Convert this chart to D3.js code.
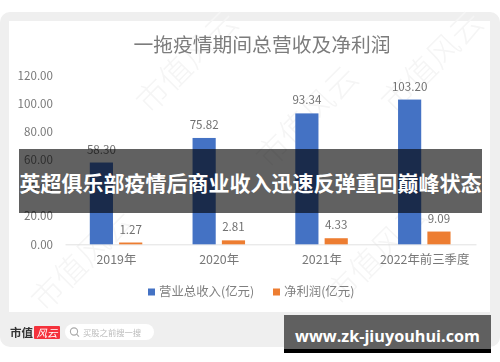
<!DOCTYPE html>
<html><head><meta charset="utf-8">
<script src="https://cdn.jsdelivr.net/npm/d3@7/dist/d3.min.js"></script>
<style>html,body{margin:0;padding:0;background:#fff}svg{display:block}</style>
</head><body><svg id="c" width="500" height="362"></svg>
<script>
const categories = ["2019年","2020年","2021年","2022年前三季度"];
const seriesNames = ["营业总收入(亿元)","净利润(亿元)"];
const revenue = [58.30,75.82,93.34,103.20];
const profit = [1.27,2.81,4.33,9.09];
const yTicks = [0,20,40,60,80,100,120];
const colors = ["#4472c4","#ed7d31"];
const titleText = "一拖疫情期间总营收及净利润";
const bannerText = "英超俱乐部疫情后商业收入迅速反弹重回巅峰状态";
const siteText = "www.zk-jiuyouhui.com";
const watermarks = [[195,70],[440,70],[90,268],[315,125],[385,262]];

const F = "'Noto Sans CJK SC','Noto Sans',sans-serif";
const svg = d3.select("#c").style("font-family",F);
const soft = svg.append("g").style("filter","blur(0.55px)");

soft.append("rect").attr("x",0).attr("y",12).attr("width",500).attr("height",335).attr("rx",10).attr("fill","#efefef");
soft.append("rect").attr("x",9).attr("y",21).attr("width",481).attr("height",291).attr("fill","#fff");

const wm = soft.append("g");
wm.selectAll("text").data(watermarks).join("text")
  .attr("transform",d=>`translate(${d[0]},${d[1]}) rotate(-45)`)
  .attr("font-size",32).attr("font-weight",300).attr("fill","#f5f5f5").attr("text-anchor","middle").text("市值风云");

soft.append("text").attr("x",262).attr("y",52).attr("text-anchor","middle")
  .attr("font-size",19.8).attr("fill","#7c7c7c").text(titleText);

const x = d3.scaleBand().domain(categories).range([65,476]);
const inner = d3.scaleBand().domain([0,1]).range([24.8,77.3]).paddingInner(0.21);
const y = d3.scaleLinear().domain([0,120]).range([244.3,76]);

const yAxis = soft.append("g").attr("transform","translate(53,0)")
  .call(d3.axisLeft(y).tickValues(yTicks).tickFormat(d3.format(".2f")).tickSize(0).tickPadding(0));
yAxis.select(".domain").remove();
yAxis.selectAll("text").attr("font-size",11.6).attr("fill","#777").attr("font-family",F);

const xAxis = soft.append("g").attr("transform","translate(0,244.3)")
  .call(d3.axisBottom(x).tickSize(0).tickPadding(10.5));
xAxis.select(".domain").attr("stroke","#e2e2e2").attr("stroke-width",1);
xAxis.selectAll("text").attr("font-size",12.4).attr("fill","#777").attr("font-family",F);

[revenue,profit].forEach((vals,s)=>{
  const g = soft.append("g");
  g.selectAll("rect").data(vals).join("rect")
    .attr("x",(d,i)=>x(categories[i])+inner(s))
    .attr("y",d=>y(d)).attr("width",inner.bandwidth())
    .attr("height",d=>y(0)-y(d)).attr("fill",colors[s]);
  g.selectAll("text").data(vals).join("text")
    .attr("x",(d,i)=>x(categories[i])+inner(s)+inner.bandwidth()/2)
    .attr("y",d=>y(d)-9).attr("text-anchor","middle")
    .attr("font-size",11.6).attr("fill","#707070").text(d=>d.toFixed(2));
});

const lg = soft.append("g");
const lx=[148,273];
seriesNames.forEach((n,i)=>{
  lg.append("rect").attr("x",lx[i]).attr("y",288.5).attr("width",7).attr("height",7).attr("fill",colors[i]);
  lg.append("text").attr("x",lx[i]+11).attr("y",295.5).attr("font-size",12.4).attr("fill","#7f7f7f").text(n);
});

soft.append("text").attr("x",10).attr("y",337).attr("font-size",11.5).attr("font-weight",700)
  .attr("font-family","'Noto Sans CJK SC',serif").attr("fill","#333").text("市值");
soft.append("rect").attr("x",34).attr("y",326).attr("width",26).attr("height",13).attr("rx",1).attr("fill","#f5323c");
soft.append("text").attr("x",47).attr("y",337).attr("text-anchor","middle").attr("font-size",10.5).attr("font-style","italic").attr("fill","#fff").text("风云");
soft.append("rect").attr("x",65).attr("y",324).attr("width",89).attr("height",16).attr("rx",8).attr("fill","#fff");
soft.append("circle").attr("cx",74).attr("cy",331.5).attr("r",3.6).attr("fill","none").attr("stroke","#aaa").attr("stroke-width",1.1);
soft.append("line").attr("x1",76.6).attr("y1",334.2).attr("x2",79).attr("y2",336.6).attr("stroke","#aaa").attr("stroke-width",1.1);
soft.append("text").attr("x",83).attr("y",336).attr("font-size",8.3).attr("fill","#bbb").text("买股之前搜一搜");

svg.append("rect").attr("x",19).attr("y",149).attr("width",463).attr("height",64).attr("fill","#000").attr("opacity",.62);
svg.append("text").attr("x",250.5).attr("y",191).attr("text-anchor","middle").attr("font-size",21).attr("font-weight",700).attr("fill","#fff").text(bannerText);

svg.append("rect").attr("x",284).attr("y",315).attr("width",207).attr("height",38).attr("fill","#000");
svg.append("rect").attr("x",284).attr("y",315).attr("width",207).attr("height",34).attr("fill","#606060");
svg.append("text").attr("x",387.5).attr("y",342).attr("text-anchor","middle").attr("font-size",16.2).attr("font-weight",700)
  .attr("font-family","'Open Sans',sans-serif").attr("fill","#fff").text(siteText);
</script></body></html>
